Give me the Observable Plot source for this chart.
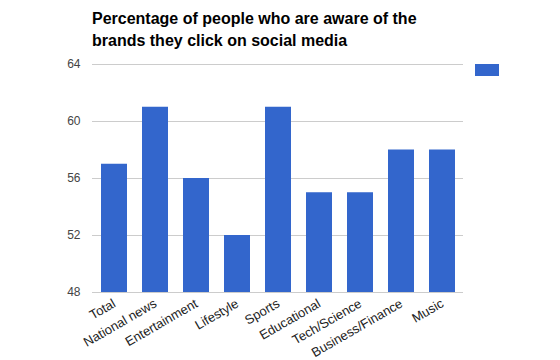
<!DOCTYPE html>
<html>
<head>
<meta charset="utf-8">
<script src="https://cdn.jsdelivr.net/npm/d3@7"></script>
<script src="https://cdn.jsdelivr.net/npm/@observablehq/plot@0.6"></script>
<style>
  html, body { margin: 0; padding: 0; background: #fff; }
  #wrap { position: relative; width: 560px; height: 360px; font-family: Arial, "Liberation Sans", sans-serif; }
  #title { position: absolute; left: 92px; top: 8px; font-size: 16px; font-weight: bold; color: #000; line-height: 22px; }
  #legend { position: absolute; left: 475px; top: 64px; width: 24px; height: 12px; background: #3366cc; }
  svg { position: absolute; left: 0; top: 0; }
</style>
</head>
<body>
<div id="wrap">
  <div id="title">Percentage of people who are aware of the<br>brands they click on social media</div>
  <div id="legend"></div>
</div>
<script>
const categories = ["Total", "National news", "Entertainment", "Lifestyle", "Sports", "Educational", "Tech/Science", "Business/Finance", "Music"];
const values = [57, 61, 56, 52, 61, 55, 55, 58, 58];
const yTicks = [48, 52, 56, 60, 64];

const data = categories.map((c, i) => ({category: c, value: values[i]}));

const chart = Plot.plot({
  width: 560,
  height: 360,
  marginTop: 64,
  marginBottom: 68,
  marginLeft: 92,
  marginRight: 97,
  style: {fontFamily: "Arial, 'Liberation Sans', sans-serif", background: "transparent"},
  x: {domain: categories, paddingInner: 0.37, paddingOuter: 0.2, label: null},
  y: {domain: [48, 64], label: null},
  marks: [
    Plot.ruleY(yTicks, {stroke: "#cccccc", strokeWidth: 1}),
    Plot.barY(data, {x: "category", y1: 48, y2: "value", fill: "#3366cc"}),
    Plot.axisY({ticks: yTicks, tickSize: 0, tickPadding: 12, fontSize: 12, fill: "#444", label: null}),
    Plot.axisX({tickSize: 0, tickPadding: 10, tickRotate: -30, fontSize: 13, fill: "#222", label: null, textAnchor: "end"})
  ]
});
document.getElementById("wrap").prepend(chart);
</script>
</body>
</html>
